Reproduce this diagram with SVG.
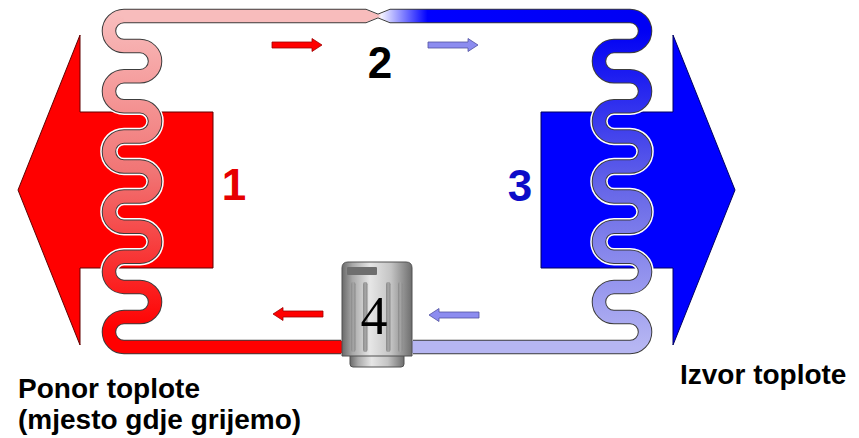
<svg xmlns="http://www.w3.org/2000/svg" width="859" height="438" viewBox="0 0 859 438">
  <defs>
    <style>
      .halo { fill: none; stroke: #ffffff; stroke-width: 17.5; stroke-linejoin: round; }
      .edge { fill: none; stroke: #3c3c3c; stroke-width: 14.5; stroke-linejoin: round; }
      .core { fill: none; stroke-width: 12.5; stroke-linejoin: round; }
      .num { font-family: "Liberation Sans", Arial, sans-serif; font-weight: bold; font-size: 44px; text-anchor: middle; }
      .cap { font-family: "Liberation Sans", Arial, sans-serif; font-weight: bold; font-size: 28px; fill: #000000; }
      .flow-hot { fill: #ff0000; stroke: #a00000; stroke-width: 0.8; }
      .flow-cold { fill: #8c8cf0; stroke: #5050a0; stroke-width: 0.8; }
    </style>
    <!-- refrigerant colour along the pipe runs -->
    <linearGradient id="gTop" gradientUnits="userSpaceOnUse" x1="124" y1="0" x2="630" y2="0">
      <stop offset="0" stop-color="#f8bcbc"/>
      <stop offset="0.502" stop-color="#f8bcbc"/>
      <stop offset="0.508" stop-color="#f4f4ff"/>
      <stop offset="0.6" stop-color="#0000ff"/>
      <stop offset="1" stop-color="#0000f4"/>
    </linearGradient>
    <linearGradient id="gHot" gradientUnits="userSpaceOnUse" x1="0" y1="16" x2="0" y2="330">
      <stop offset="0" stop-color="#f8bcbc"/>
      <stop offset="0.5" stop-color="#f17474"/>
      <stop offset="1" stop-color="#ff0000"/>
    </linearGradient>
    <linearGradient id="gCold" gradientUnits="userSpaceOnUse" x1="0" y1="30" x2="0" y2="347">
      <stop offset="0" stop-color="#0000f4"/>
      <stop offset="0.5" stop-color="#6666e8"/>
      <stop offset="1" stop-color="#b6b6f2"/>
    </linearGradient>
    <linearGradient id="gMetal" x1="0" y1="0" x2="1" y2="0">
      <stop offset="0" stop-color="#6a6a6a"/>
      <stop offset="0.15" stop-color="#a8a8a8"/>
      <stop offset="0.4" stop-color="#e6e6e6"/>
      <stop offset="0.7" stop-color="#c4c4c4"/>
      <stop offset="1" stop-color="#6e6e6e"/>
    </linearGradient>
    <linearGradient id="gGroove" x1="0" y1="0" x2="1" y2="0">
      <stop offset="0" stop-color="#8a8a8a"/>
      <stop offset="0.5" stop-color="#a6a6a6"/>
      <stop offset="1" stop-color="#8a8a8a"/>
    </linearGradient>
    <path id="flowArrow" d="M0,-3 H40 V-6.5 L50,0 L40,6.5 V3 H0 Z"/>
  </defs>

  <rect width="859" height="438" fill="#ffffff"/>

  <!-- heat flows -->
  <g id="sink-arrow">
    <path d="M213,112 H80 V35 L18,190 L80,345 V268 H213 Z" fill="#ff0000" stroke="#600000" stroke-width="1"/>
  </g>
  <g id="source-arrow">
    <path d="M541,112 H673 V35 L735,190 L673,345 V268 H541 Z" fill="#0000ff" stroke="#000060" stroke-width="1"/>
  </g>

  <!-- refrigerant circuit -->
  <g id="pipes">
    <g id="condenser">
      <path class="halo" d="M124,16 A15.05,15.05 0 0 0 124,46.1 H140 A15.05,15.05 0 0 1 140,76.2 H124 A15.05,15.05 0 0 0 124,106.3 H140 A15.05,15.05 0 0 1 140,136.4 H124 A15.05,15.05 0 0 0 124,166.5 H140 A15.05,15.05 0 0 1 140,196.6 H124 A15.05,15.05 0 0 0 124,226.7 H140 A15.05,15.05 0 0 1 140,256.8 H124 A15.05,15.05 0 0 0 124,286.9 H140 A15.05,15.05 0 0 1 140,317 H124 A15.05,15.05 0 0 0 124,347.1"/>
      <path class="edge" d="M366,16 H124 A15.05,15.05 0 0 0 124,46.1 H140 A15.05,15.05 0 0 1 140,76.2 H124 A15.05,15.05 0 0 0 124,106.3 H140 A15.05,15.05 0 0 1 140,136.4 H124 A15.05,15.05 0 0 0 124,166.5 H140 A15.05,15.05 0 0 1 140,196.6 H124 A15.05,15.05 0 0 0 124,226.7 H140 A15.05,15.05 0 0 1 140,256.8 H124 A15.05,15.05 0 0 0 124,286.9 H140 A15.05,15.05 0 0 1 140,317 H124 A15.05,15.05 0 0 0 124,347.1 H341"/>
      <path class="core" stroke="url(#gHot)" d="M124,16 A15.05,15.05 0 0 0 124,46.1 H140 A15.05,15.05 0 0 1 140,76.2 H124 A15.05,15.05 0 0 0 124,106.3 H140 A15.05,15.05 0 0 1 140,136.4 H124 A15.05,15.05 0 0 0 124,166.5 H140 A15.05,15.05 0 0 1 140,196.6 H124 A15.05,15.05 0 0 0 124,226.7 H140 A15.05,15.05 0 0 1 140,256.8 H124 A15.05,15.05 0 0 0 124,286.9 H140 A15.05,15.05 0 0 1 140,317 H124 A15.05,15.05 0 0 0 124,347.1"/>
      <path class="core" stroke="#ff0000" d="M124,347.1 H342"/>
    </g>
    <g id="evaporator">
      <path class="halo" d="M630,16 A15.05,15.05 0 0 1 630,46.1 H614 A15.05,15.05 0 0 0 614,76.2 H630 A15.05,15.05 0 0 1 630,106.3 H614 A15.05,15.05 0 0 0 614,136.4 H630 A15.05,15.05 0 0 1 630,166.5 H614 A15.05,15.05 0 0 0 614,196.6 H630 A15.05,15.05 0 0 1 630,226.7 H614 A15.05,15.05 0 0 0 614,256.8 H630 A15.05,15.05 0 0 1 630,286.9 H614 A15.05,15.05 0 0 0 614,317 H630 A15.05,15.05 0 0 1 630,347.1"/>
      <path class="edge" d="M390,16 H630 A15.05,15.05 0 0 1 630,46.1 H614 A15.05,15.05 0 0 0 614,76.2 H630 A15.05,15.05 0 0 1 630,106.3 H614 A15.05,15.05 0 0 0 614,136.4 H630 A15.05,15.05 0 0 1 630,166.5 H614 A15.05,15.05 0 0 0 614,196.6 H630 A15.05,15.05 0 0 1 630,226.7 H614 A15.05,15.05 0 0 0 614,256.8 H630 A15.05,15.05 0 0 1 630,286.9 H614 A15.05,15.05 0 0 0 614,317 H630 A15.05,15.05 0 0 1 630,347.1 H413"/>
      <path class="core" stroke="url(#gCold)" d="M630,16 A15.05,15.05 0 0 1 630,46.1 H614 A15.05,15.05 0 0 0 614,76.2 H630 A15.05,15.05 0 0 1 630,106.3 H614 A15.05,15.05 0 0 0 614,136.4 H630 A15.05,15.05 0 0 1 630,166.5 H614 A15.05,15.05 0 0 0 614,196.6 H630 A15.05,15.05 0 0 1 630,226.7 H614 A15.05,15.05 0 0 0 614,256.8 H630 A15.05,15.05 0 0 1 630,286.9 H614 A15.05,15.05 0 0 0 614,317 H630 A15.05,15.05 0 0 1 630,347.1"/>
      <path class="core" stroke="#b6b6f2" d="M630,347.1 H412"/>
    </g>
    <!-- top line with the throttle (expansion valve) -->
    <g id="valve">
      <path d="M124,9.75 H366 L378,14.6 L390,9.75 H630 V22.25 H390 L378,17.4 L366,22.25 H124 Z" fill="url(#gTop)"/>
      <path d="M366,9.25 L378,14.1 L390,9.25 M366,22.75 L378,17.9 L390,22.75" fill="none" stroke="#3c3c3c" stroke-width="1"/>
    </g>
  </g>

  <!-- flow direction marks -->
  <g id="flow-arrows">
    <use href="#flowArrow" class="flow-hot" transform="translate(272,45)"/>
    <use href="#flowArrow" class="flow-cold" transform="translate(428,45)"/>
    <use href="#flowArrow" class="flow-hot" transform="translate(323,314) scale(-1,1)"/>
    <use href="#flowArrow" class="flow-cold" transform="translate(479,315) scale(-1,1)"/>
  </g>

  <g id="compressor">
    <rect x="350" y="350" width="54" height="17" rx="3" fill="url(#gMetal)" stroke="#505050" stroke-width="1"/>
    <path d="M342,268 Q342,262 348,262 H406 Q412,262 412,268 V356 H342 Z" fill="url(#gMetal)" stroke="#505050" stroke-width="1"/>
    <rect x="347" y="267" width="30" height="8" rx="1" fill="#6e6e6e"/>
    <rect x="351" y="282" width="4.5" height="70" rx="2.2" fill="url(#gGroove)"/>
    <rect x="363" y="282" width="4.5" height="70" rx="2.2" fill="url(#gGroove)"/>
    <rect x="386" y="282" width="4.5" height="70" rx="2.2" fill="url(#gGroove)"/>
    <rect x="398" y="282" width="4.5" height="70" rx="2.2" fill="url(#gGroove)"/>
    <text x="374" y="334" font-family="'Liberation Serif', 'Times New Roman', serif" font-size="54" text-anchor="middle" fill="#000000">4</text>
  </g>

  <g id="labels">
    <text class="num" x="234" y="200" fill="#e60000">1</text>
    <text class="num" x="380" y="78" fill="#000000">2</text>
    <text class="num" x="520" y="201" fill="#0c0cc8">3</text>
    <text class="cap" x="18" y="398">Ponor toplote</text>
    <text class="cap" x="18" y="429">(mjesto gdje grijemo)</text>
    <text class="cap" x="680" y="384">Izvor toplote</text>
  </g>
</svg>
